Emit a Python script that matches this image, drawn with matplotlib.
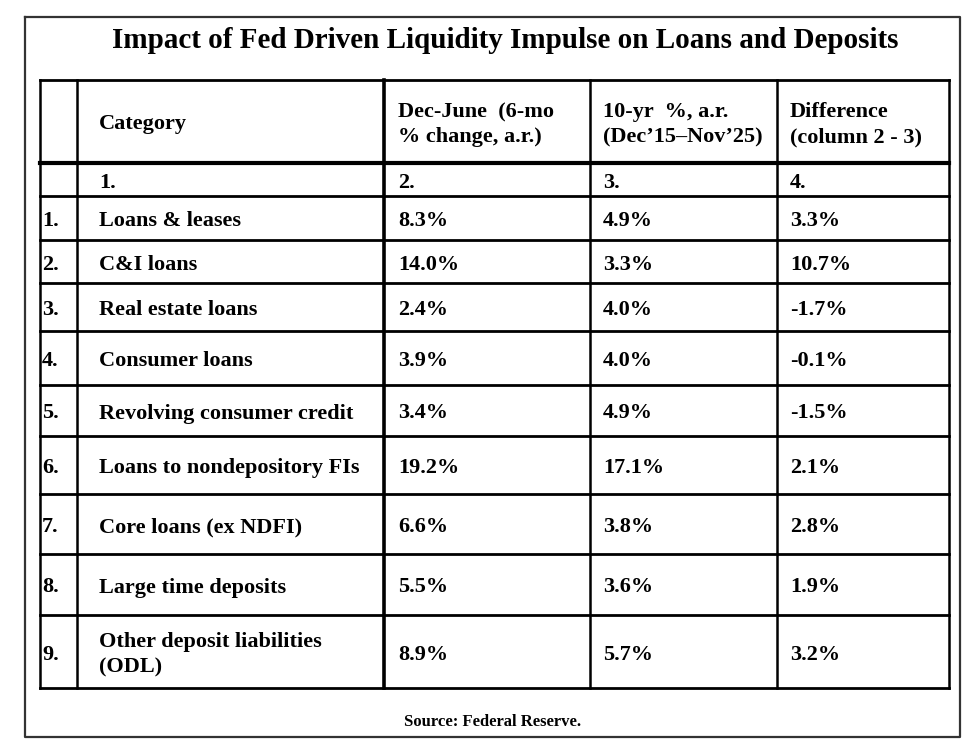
import matplotlib
matplotlib.use('Agg')
import matplotlib.pyplot as plt

# table content
title = "Impact of Fed Driven Liquidity Impulse on Loans and Deposits"
headers = ["Category", "Dec-June  (6-mo\n% change, a.r.)",
           "10-yr  %, a.r.\n(Dec\u201915\u2013Nov\u201925)", "Difference\n(column 2 - 3)"]
col_numbers = ["1.", "2.", "3.", "4."]
row_numbers = ["1.", "2.", "3.", "4.", "5.", "6.", "7.", "8.", "9."]
categories = ["Loans & leases", "C&I loans", "Real estate loans", "Consumer loans",
              "Revolving consumer credit", "Loans to nondepository FIs",
              "Core loans (ex NDFI)", "Large time deposits",
              "Other deposit liabilities\n(ODL)"]
dec_june = [8.3, 14.0, 2.4, 3.9, 3.4, 19.2, 6.6, 5.5, 8.9]
ten_yr = [4.9, 3.3, 4.0, 4.0, 4.9, 17.1, 3.8, 3.6, 5.7]
difference = [3.3, 10.7, -1.7, -0.1, -1.5, 2.1, 2.8, 1.9, 3.2]
source = "Source: Federal Reserve."

# layout in pixels
W, H = 967, 747
col_x = [40, 77, 384, 590, 777, 949]
row_y = [80, 163, 196, 240, 283, 331, 385, 436, 494, 554, 615, 688]
FS = 16
LINE = 25  # px between baselines of two-line cells

fig = plt.figure(figsize=(W / 100, H / 100), dpi=100)
ax = fig.add_axes([0, 0, 1, 1])
ax.set_xlim(0, W)
ax.set_ylim(H, 0)
ax.axis('off')

font = dict(family='Liberation Serif', weight='bold', color='black')


def cell_text(x, yc, s, size=FS):
    # place lines on baselines, block centred on yc
    lines = s.split('\n')
    y0 = yc + 8 - (len(lines) - 1) * LINE / 2
    for k, line in enumerate(lines):
        ax.text(x, y0 + k * LINE, line, ha='left', va='baseline', fontsize=size, **font)


# outer frame
ax.plot([25, 960, 960, 25, 25], [17, 17, 737, 737, 17], color='#333333', lw=1.6)

ax.text(505, 48, title, ha='center', va='baseline', fontsize=21, **font)

# grid lines
for i, y in enumerate(row_y):
    lw = 3 if i == 1 else 2
    ax.plot([col_x[0], col_x[-1]], [y, y], color='black', lw=lw)
for j, x in enumerate(col_x):
    lw = 2.6 if j == 2 else 1.8
    ax.plot([x, x], [row_y[0], row_y[-1]], color='black', lw=lw)

text_x = [col_x[1] + 22, col_x[2] + 14, col_x[3] + 13, col_x[4] + 13]

# header
hy = (row_y[0] + row_y[1]) / 2
for x, h in zip(text_x, headers):
    cell_text(x, hy, h)

ny = (row_y[1] + row_y[2]) / 2
for x, n in zip(text_x, col_numbers):
    cell_text(x, ny, n)

for i in range(len(categories)):
    y = (row_y[i + 2] + row_y[i + 3]) / 2
    cell_text(col_x[0] + 2, y, row_numbers[i])
    cell_text(text_x[0], y, categories[i])
    for x, v in zip(text_x[1:], [dec_june[i], ten_yr[i], difference[i]]):
        cell_text(x, y, f"{v:.1f}%")

ax.text(493, 726, source, ha='center', va='baseline', fontsize=12, **font)

fig.savefig('out.png', dpi=100, facecolor='white')
